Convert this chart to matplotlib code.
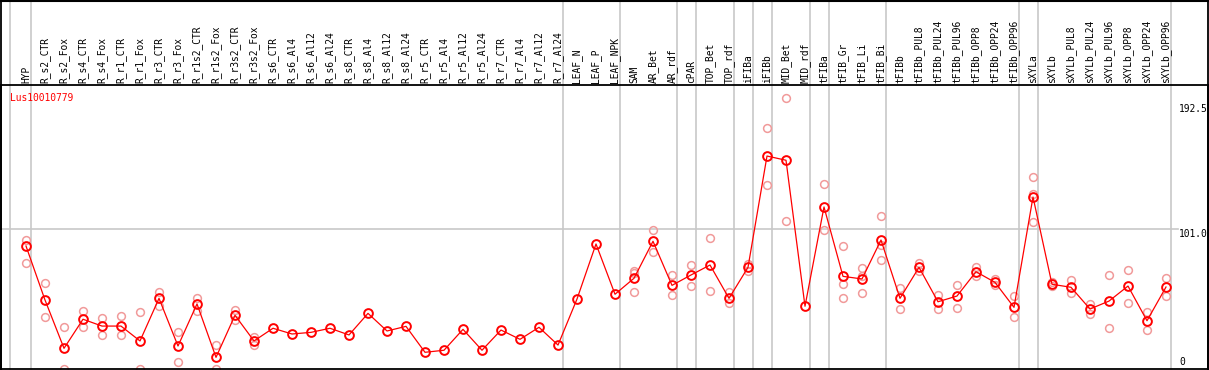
import numpy as np
import matplotlib
matplotlib.use("Agg")
import matplotlib.pyplot as plt
from matplotlib.lines import Line2D

samples = ["HYP", "R_s2_CTR", "R_s2_Fox", "R_s4_CTR", "R_s4_Fox", "R_r1_CTR", "R_r1_Fox",
           "R_r3_CTR", "R_r3_Fox", "R_r1s2_CTR", "R_r1s2_Fox", "R_r3s2_CTR", "R_r3s2_Fox",
           "R_s6_CTR", "R_s6_Al4", "R_s6_Al12", "R_s6_Al24", "R_s8_CTR", "R_s8_Al4",
           "R_s8_Al12", "R_s8_Al24", "R_r5_CTR", "R_r5_Al4", "R_r5_Al12", "R_r5_Al24",
           "R_r7_CTR", "R_r7_Al4", "R_r7_Al12", "R_r7_Al24", "LEAF_N", "LEAF_P", "LEAF_NPK",
           "SAM", "AR_Bet", "AR_rdf", "cPAR", "TOP_Bet", "TOP_rdf", "iFIBa", "iFIBb",
           "MID_Bet", "MID_rdf", "tFIBa", "tFIB_Gr", "tFIB_Li", "tFIB_Bi", "tFIBb",
           "tFIBb_PUL8", "tFIBb_PUL24", "tFIBb_PUL96", "tFIBb_OPP8", "tFIBb_OPP24",
           "tFIBb_OPP96", "sXYLa", "sXYLb", "sXYLb_PUL8", "sXYLb_PUL24", "sXYLb_PUL96",
           "sXYLb_OPP8", "sXYLb_OPP24", "sXYLb_OPP96"]

mean_vals = [88.2, 48.7, 13.3, 34.6, 29.6, 29.6, 18.7, 49.9, 15.0, 45.8, 6.7, 37.5, 18.7,
             28.0, 23.8, 25.0, 28.0, 23.1, 38.9, 26.0, 29.4, 10.4, 11.9, 27.2, 11.9,
             26.7, 19.9, 28.7, 15.7, 49.4, 89.7, 52.9,
             64.6, 91.7, 59.4, 67.0, 74.3, 49.9, 72.6, 154.1,
             151.0, 44.1, 116.8, 66.0, 64.1, 92.6, 49.9,
             72.6, 47.4, 51.6, 69.4, 61.6, 43.3,
             124.1, 60.2, 58.0, 42.1, 47.9, 58.9, 33.5, 58.2]

nan = np.nan
rep_a = [92.6, 60.9, 28.7, 40.6, 35.5, 36.7, 39.9, 54.3, 25.0, 49.9, 15.5, 41.4, 21.8,
         nan, nan, nan, nan, nan, nan, nan, nan, nan, nan, nan, nan, nan, nan, nan, nan,
         nan, nan, nan,
         69.9, 99.9, 67.0, 74.3, 93.9, 54.5, 75.0, 174.4,
         196.3, nan, 133.4, 88.2, 71.9, 110.2, 57.2,
         75.5, 52.3, 59.4, 72.6, 64.3, 51.6,
         138.9, 61.6, 63.3, 45.8, 67.0, 70.6, 39.7, 64.6]
rep_b = [75.5, 36.2, -1.8, 28.7, 23.3, 22.8, -1.8, 44.3, 3.5, 40.6, -1.8, 34.0, 15.7,
         nan, nan, nan, nan, nan, nan, nan, nan, nan, nan, nan, nan, nan, nan, nan, nan,
         nan, nan, nan,
         54.3, 84.0, 52.1, 58.7, 55.1, 46.3, 70.1, 132.7,
         106.3, nan, 99.7, 60.6, 53.6, 77.7, 41.9,
         70.1, 41.9, 43.0, 66.3, 59.7, 36.0,
         105.6, 59.2, 53.6, 38.2, 28.0, 46.3, 26.7, 51.6]
rep_c = [nan] * 32 + [68.7, nan, nan, nan, nan, nan, nan, nan,
                      nan, nan, nan, 49.9, 66.3, 88.9, nan,
                      nan, nan, nan, nan, nan, nan,
                      126.1, nan, nan, nan, nan, nan, nan, nan]

group_ends = [-1, 0, 28, 31, 34, 35, 37, 38, 39, 41, 42, 45, 52, 53, 60]
axis_labels = [(192.5, "192.5"), (101.0, "101.0"), (0, "0")]
gene = "Lus10010779"

W, H = 1209, 370
fig = plt.figure(figsize=(W / 100, H / 100), dpi=100)
top_px, bot_px, left_px, right_px = 85, 369, 1, 1208
ax = fig.add_axes([left_px / W, (H - bot_px) / H, (right_px - left_px) / W, (bot_px - top_px) / H])

x = np.arange(len(samples))
ax.set_xlim((left_px - 26) / 19, (right_px - 26) / 19)
ax.set_ylim(-1.83, 206.1)

grid_c = "#c8c8c8"
# vertical group separators spanning whole figure height
ymax_frac = (bot_px - 0) / (bot_px - top_px)
for g in group_ends:
    xv = g + 0.25 if g >= 0 else -0.82
    ax.axvline(xv, ymin=0, ymax=ymax_frac, color=grid_c, lw=1.2, clip_on=False, zorder=0)
ax.axhline(101.0, xmin=0, xmax=(1178 - left_px) / (right_px - left_px), color=grid_c, lw=1.2, zorder=0)

rep_color = "#f19a9a"
for reps in (rep_a, rep_b, rep_c):
    ax.plot(x, reps, linestyle="none", marker="o", ms=5.6, mfc="none", mec=rep_color, mew=1.1, zorder=2)
ax.plot(x, mean_vals, color="#ff0000", lw=0.9, marker="o", ms=6.3, mfc="none", mec="#ff0000",
        mew=1.4, zorder=3)

mono = "DejaVu Sans Mono"
ax.xaxis.tick_top()
ax.set_xticks(x)
ax.set_xticklabels(samples, rotation=90, fontsize=6.9, family=mono, va="bottom", ha="center")
ax.tick_params(axis="x", length=0, pad=1.5)
ax.set_yticks([])

xl = (1179 - left_px) / (right_px - left_px)
for val, txt in axis_labels:
    ax.text(xl, val, txt, transform=ax.get_yaxis_transform(), ha="left",
            va="bottom" if val == 0 else "top", fontsize=6.9, family=mono, color="black")

ax.text((10 - left_px) / (right_px - left_px), 1 - (98 - top_px) / (bot_px - top_px), gene,
        transform=ax.transAxes, ha="left", va="center", fontsize=6.9, family=mono, color="#ff0000")

for s in ax.spines.values():
    s.set_color("black")
    s.set_linewidth(1.3)

# outer frame around header
fig.add_artist(Line2D([left_px / W, left_px / W], [0, 1], color="black", lw=1.3))
fig.add_artist(Line2D([right_px / W, right_px / W], [0, 1], color="black", lw=1.3))
fig.add_artist(Line2D([0, 1], [1 - 0.5 / H, 1 - 0.5 / H], color="black", lw=1.5))

fig.savefig("out.png", dpi=100)
